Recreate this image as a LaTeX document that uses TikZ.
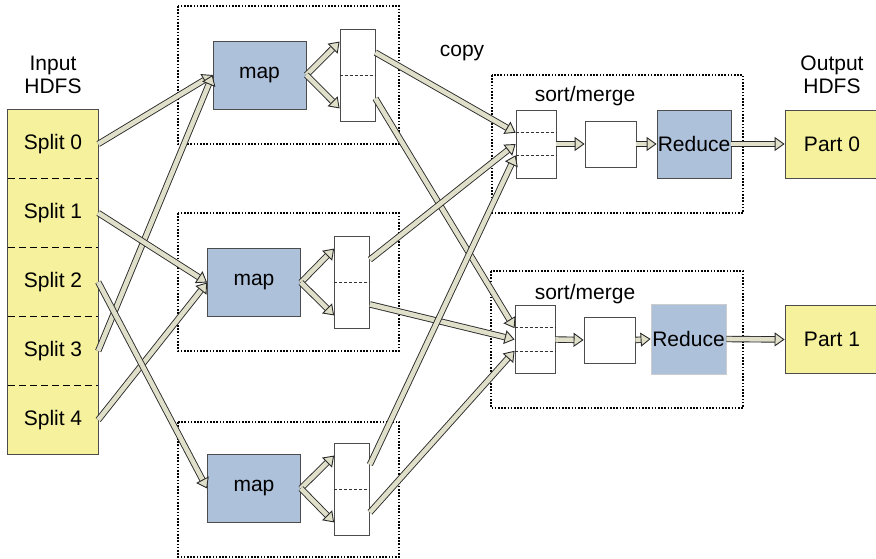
\documentclass[tikz,border=0pt]{standalone}
\usepackage{fontspec}
\setmainfont{Liberation Sans}
\usetikzlibrary{arrows.meta}
\definecolor{splityellow}{HTML}{F6F19C}
\definecolor{mapblue}{HTML}{ADC1DB}
\definecolor{flowfill}{HTML}{E0E0CA}
\definecolor{flowedge}{HTML}{2A2A2A}
\tikzset{every node/.style={font=\fontsize{21}{23}\selectfont},
         box/.style={draw=black!70,line width=0.8pt,inner sep=0pt},
         split/.style={fill=splityellow,minimum width=90pt,minimum height=69pt,inner sep=0pt},
         mapbox/.style={box,fill=mapblue,minimum width=93pt,minimum height=68pt},
         buffer/.style={box,fill=white,minimum width=35pt,minimum height=92pt},
         mergebuf/.style={box,fill=white,minimum width=40pt,minimum height=68pt},
         midbox/.style={box,fill=white,minimum width=51pt,minimum height=46pt},
         reducebox/.style={box,fill=mapblue,minimum width=74pt,minimum height=68pt},
         partbox/.style={box,fill=splityellow,minimum width=94pt,minimum height=68pt},
         group/.style={draw,line width=1.7pt,dash pattern=on 1.6pt off 1.6pt},
         sep/.style={draw=black!80,line width=0.7pt,dash pattern=on 3pt off 2pt},
         flow/.style={draw=flowedge,line width=0.9pt,double=flowfill,double distance=4.6pt,
                      -{Triangle[length=10pt,width=14pt,fill=flowfill,line width=0.9pt]}}
        }
\begin{document}
\begin{tikzpicture}[x=1pt,y=-1pt]
\useasboundingbox (0,0) rectangle (876,559);
% dotted groups
\draw[group] (178,6) rectangle (399,144);
\draw[group] (178,213) rectangle (399,351);
\draw[group] (178,422) rectangle (399,557);
\draw[group] (492,75) rectangle (743,213);
\draw[group] (491,271) rectangle (743,408);
% input splits
\node[align=center] (in) at (53,75) {Input\\HDFS};
\foreach \i in {0,...,4}
  \node[split] (s\i) at (53,144+69*\i) {Split \i};
\draw[black!70,line width=0.8pt] (s0.north west) rectangle (s4.south east);
\foreach \i in {0,...,3}
  \draw[line width=1.2pt,dash pattern=on 7pt off 4pt] (s\i.south west) -- (s\i.south east);
% map side
\node[mapbox] (m1) at (259.5,75) {map};
\node[mapbox] (m2) at (254,282.5) {map};
\node[mapbox] (m3) at (254,488.5) {map};
\node[buffer] (b1) at (357.5,75) {};
\node[buffer] (b2) at (352,282) {};
\node[buffer] (b3) at (352,489) {};
\foreach \k in {1,2,3}
  \draw[sep] (b\k.west) -- (b\k.east);
\node[anchor=base] (copy) at (462,57) {copy};
% reduce side
\node[anchor=base] (smA) at (585,102) {sort/merge};
\node[anchor=base] (smB) at (585,299) {sort/merge};
\node[mergebuf] (mA) at (536,144) {};
\node[mergebuf] (mB) at (535,339.5) {};
\foreach \r in {A,B} {
  \draw[sep] ([yshift=22.7pt]m\r.south west) -- ([yshift=22.7pt]m\r.south east);
  \draw[sep] ([yshift=-22.7pt]m\r.north west) -- ([yshift=-22.7pt]m\r.north east);
}
\node[midbox] (cA) at (610.5,144) {};
\node[midbox] (cB) at (609.5,340) {};
\node[reducebox] (rA) at (694,144) {Reduce};
\node[reducebox,draw=black!20,minimum height=70pt,minimum width=75pt] (rB) at (688.5,339) {Reduce};
\node[align=center] (out) at (832,75) {Output\\HDFS};
\node[partbox] (pA) at (832,144) {Part 0};
\node[partbox] (pB) at (832,339.5) {Part 1};
% splits to maps
\draw[flow] (s0.east) -- (m1.west);
\draw[flow] (s3.east) -- (m1.west);
\draw[flow] (s1.east) -- (m2.west);
\draw[flow] (s4.east) -- (m2.west);
\draw[flow] (s2.east) -- (m3.west);
% maps to buffers
\foreach \k in {1,2,3} {
  \draw[flow] (m\k.east) -- ([yshift=-13pt]b\k.north west);
  \draw[flow] (m\k.east) -- ([yshift=13pt]b\k.south west);
}
% copy
\draw[flow] ([yshift=-24pt]b1.north east) -- ([yshift=11.3pt]mA.west);
\draw[flow] ([yshift=23pt]b1.south east) -- ([yshift=11.3pt]mB.west);
\draw[flow] ([yshift=-24pt]b2.north east) -- (mA.west);
\draw[flow] ([yshift=24pt]b2.south east) -- (mB.west);
\draw[flow] ([yshift=-22pt]b3.north east) -- ([yshift=-11.3pt]mA.west);
\draw[flow] ([yshift=23pt]b3.south east) -- ([yshift=-11.3pt]mB.west);
% merge, reduce, output
\foreach \r in {A,B} {
  \draw[flow] (m\r.east) -- (c\r.west);
  \draw[flow] (c\r.east) -- (r\r.west);
  \draw[flow] (r\r.east) -- (p\r.west);
}
\end{tikzpicture}
\end{document}
